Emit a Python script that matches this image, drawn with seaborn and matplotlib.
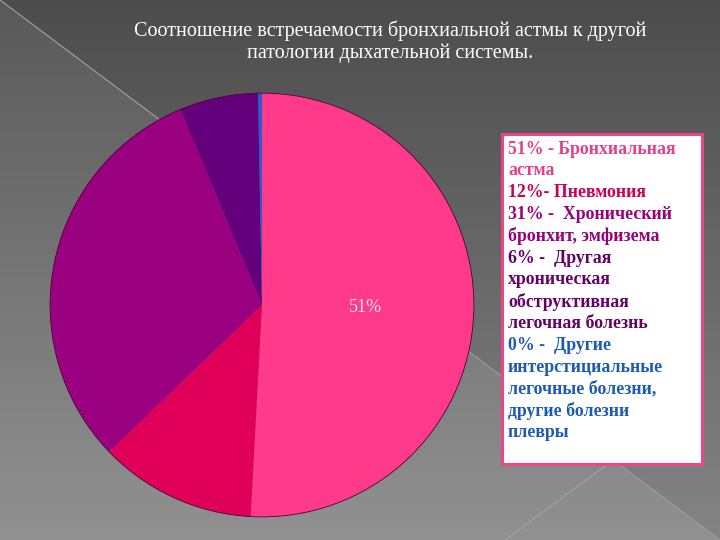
import numpy as np
import matplotlib
matplotlib.use('Agg')
import matplotlib.pyplot as plt
import seaborn as sns

# данные
shares = [51, 12, 31, 6, 0.3]
slice_colors = ['#FF3A8A', '#E0005A', '#9A007F', '#65007D', '#2A5BD0']
text_colors = ['#E4408A', '#CF0052', '#97007A', '#650068', '#1C5AB4']
legend_lines = [
    ['51% - Бронхиальная', 'астма'],
    ['12%- Пневмония'],
    ['31% -  Хронический', 'бронхит, эмфизема'],
    ['6% -  Другая', 'хроническая', 'обструктивная', 'легочная болезнь'],
    ['0% -  Другие', 'интерстициальные', 'легочные болезни,', 'другие болезни', 'плевры'],
]
title = 'Соотношение встречаемости бронхиальной астмы к другой\nпатологии дыхательной системы.'

sns.set_theme(style='white')
plt.rcParams['font.family'] = ['Liberation Serif', 'DejaVu Serif']

W, H = 720, 540
fig = plt.figure(figsize=(7.2, 5.4), dpi=100)

# фон: серый градиент и диагональные линии
bg = fig.add_axes([0, 0, 1, 1])
yy, xx = np.mgrid[0:H, 0:W]
val = 0.35 + 0.22 * (yy / H)
val = np.where(yy < xx * 0.75, val - 0.05, val)
bg.imshow(np.dstack([val, val, val]), extent=[0, W, H, 0], aspect='auto')
bg.plot([0, W], [0, H], color='#9a9a9a', lw=0.9)
bg.plot([613, 505], [460, 540], color='#a0a0a0', lw=0.9)
bg.set_xlim(0, W)
bg.set_ylim(H, 0)
bg.axis('off')

# круговая диаграмма
cx, cy, r = 262, 305, 214
ax = fig.add_axes([(cx - r) / W, (H - cy - r) / H, 2 * r / W, 2 * r / H])
wedges, texts, autotexts = ax.pie(
    shares, colors=sns.color_palette(slice_colors), startangle=90, counterclock=False,
    autopct=lambda p: f'{p:.0f}%' if p > 40 else '', pctdistance=0.49,
    wedgeprops=dict(linewidth=0), textprops=dict(color='#F7E6EF', fontsize=13))
ax.add_patch(plt.Circle((0, 0), 1, fill=False, ec='#50003a', lw=0.6))
ax.set_xlim(-1.01, 1.01)
ax.set_ylim(-1.01, 1.01)
ax.set_aspect('equal')
ax.axis('off')

# заголовок
fig.text(390 / W, 1 - 42 / H, title, ha='center', va='center', color='white',
         fontsize=14.5, linespacing=1.2)

# подпись-легенда в рамке
box = plt.Rectangle((502 / W, 1 - 464 / H), 200 / W, 330 / H, transform=fig.transFigure,
                    fc='white', ec='#E8478A', lw=2.2, zorder=3)
fig.patches.append(box)
y = 149
for lines, col in zip(legend_lines, text_colors):
    for line in lines:
        fig.text(508 / W, 1 - y / H, line, ha='left', va='center', color=col,
                 fontsize=12.8, fontweight='bold', zorder=4)
        y += 21.8

fig.savefig('out.png', dpi=100)
